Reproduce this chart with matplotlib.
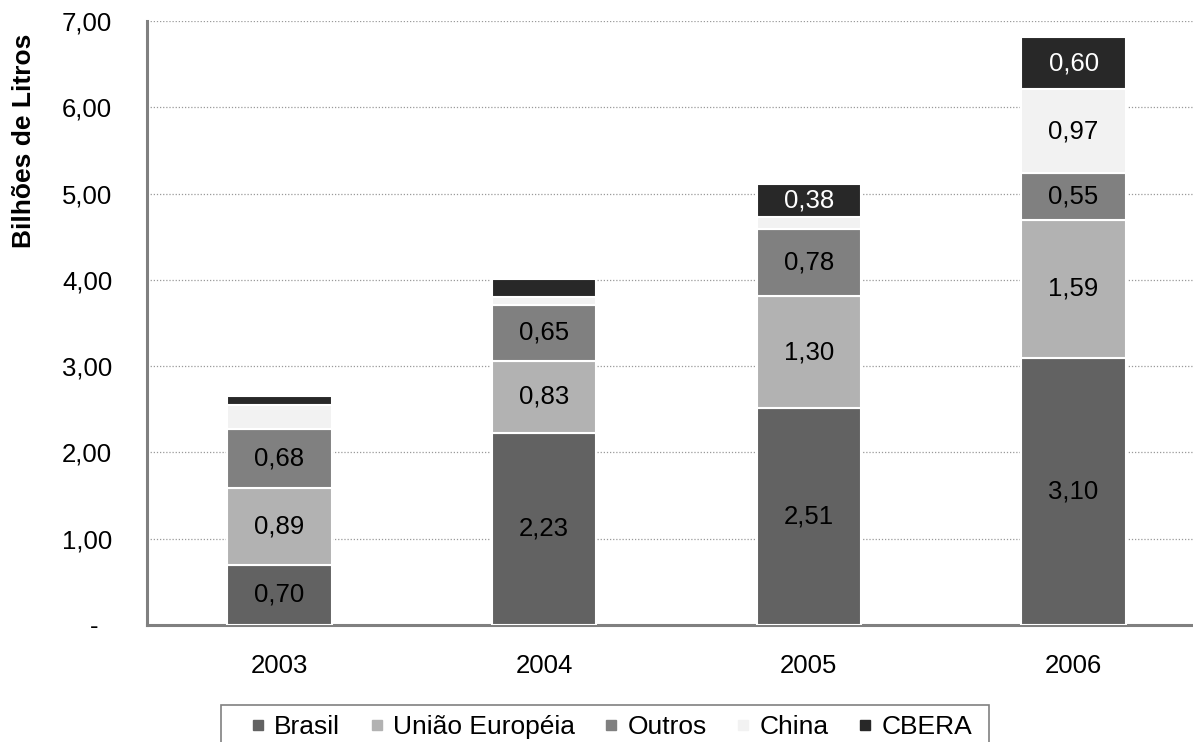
import numpy as np
import matplotlib
matplotlib.use("Agg")
from matplotlib import pyplot as plt
from matplotlib.lines import Line2D
from matplotlib.patches import Rectangle

plt.rcParams['font.family'] = ['Liberation Sans', 'DejaVu Sans']

# Dados (bilhões de litros)
anos = ['2003', '2004', '2005', '2006']
series = ['Brasil', 'União Européia', 'Outros', 'China', 'CBERA']
brasil = [0.70, 2.23, 2.51, 3.10]
uniao_europeia = [0.89, 0.83, 1.30, 1.59]
outros = [0.68, 0.65, 0.78, 0.55]
china = [0.28, 0.09, 0.14, 0.97]
cbera = [0.10, 0.21, 0.38, 0.60]

cores = ['#626262', '#b2b2b2', '#808080', '#f2f2f2', '#282828']
cor_texto = ['black', 'black', 'black', 'black', 'white']
valores = [brasil, uniao_europeia, outros, china, cbera]

fs = 18.5
fig = plt.figure(figsize=(11.93, 7.42), dpi=100)
ax = fig.add_axes([147/1193, 1-625/742, (1206-147)/1193, (625-21)/742])

x = np.arange(len(anos))
base = np.zeros(len(anos))
for vals, cor, ct in zip(valores, cores, cor_texto):
    vals = np.array(vals)
    ax.bar(x, vals, 0.394, bottom=base, color=cor, edgecolor='white', linewidth=1.5, zorder=3)
    for xi, b, v in zip(x, base, vals):
        if v >= 0.35:
            ax.text(xi, b + v/2, f"{v:.2f}".replace('.', ','), ha='center', va='center',
                    fontsize=fs, color=ct, zorder=4)
    base += vals

ax.set_xlim(-0.5, 3.5)
ax.set_ylim(0, 7)
ax.set_xticks(x)
ax.set_xticklabels(anos)
yt = np.arange(0, 8)
ax.set_yticks(yt)
ax.set_yticklabels(['-  '] + [f"{v:.2f}".replace('.', ',') for v in yt[1:]])
ax.tick_params(axis='x', length=0, pad=21, labelsize=fs)
ax.tick_params(axis='y', length=0, pad=25, labelsize=fs)

for lado in ['top', 'right']:
    ax.spines[lado].set_visible(False)
for lado in ['left', 'bottom']:
    ax.spines[lado].set_color('#808080')
    ax.spines[lado].set_linewidth(2.2)

for v in yt[1:]:
    ax.axhline(v, color='#999999', lw=0.9, ls=(0, (1, 1.5)), zorder=1)

fig.text(24/1193, 1-141/742, 'Bilhões de Litros', rotation=90, ha='center', va='center',
         fontsize=19, fontweight='bold')

# legenda
fig.patches.append(Rectangle((221/1193, -0.05), (989-221)/1193, 1-705/742+0.05,
                             transform=fig.transFigure, facecolor='white',
                             edgecolor='#808080', lw=1.2))
handles = [Line2D([], [], marker='s', ls='none', markersize=7.5, color=c, markeredgecolor=c)
           for c in cores]
fig.legend(handles, series, loc='center left', bbox_to_anchor=(250/1193, 1-727/742),
           ncol=5, frameon=False, fontsize=19, handlelength=0.6, handletextpad=0.3,
           columnspacing=1.1, borderpad=0, borderaxespad=0)

fig.savefig('out.png', dpi=100)
